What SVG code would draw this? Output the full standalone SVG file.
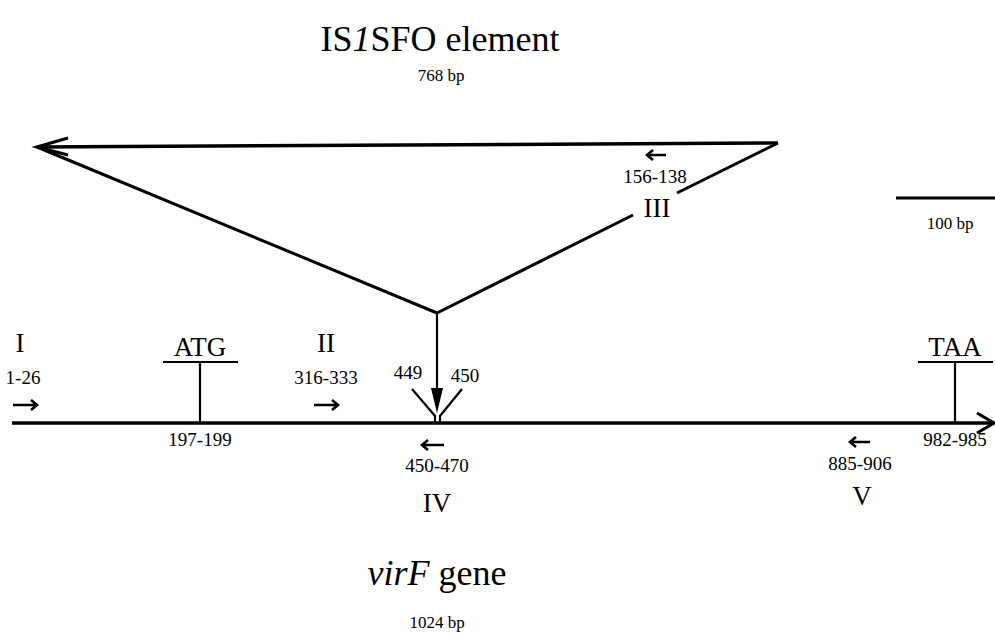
<svg xmlns="http://www.w3.org/2000/svg" width="995" height="640" viewBox="0 0 995 640">
<style>
text{font-family:"Liberation Serif","Times New Roman",serif;fill:#000;text-anchor:middle}
.big{font-size:36px}
.rom{font-size:27px}
.num{font-size:19px}
.bp{font-size:17px}
.ln{stroke:#000;fill:none;stroke-linecap:butt}
.thick{stroke-width:3.5}
.mid{stroke-width:3}
.thin{stroke-width:2.2}
.pr{stroke:#000;fill:none;stroke-width:2.6;stroke-linejoin:miter}
</style>
<rect width="995" height="640" fill="#fff"/>
<g id="title">
<text class="big" x="440" y="51">IS<tspan font-style="italic">1</tspan>SFO element</text>
<text class="bp" x="441" y="81">768 bp</text>
</g>
<g id="is-element">
<path class="ln thick" d="M778 143 L37 147"/>
<path class="ln mid" d="M68 138 L37 147 L68 155"/>
<path class="ln mid" d="M37 147 L437 313"/>
<path class="ln mid" d="M778 143 L677 193 M633 215 L437 313"/>
</g>
<g id="primer-III">
<path class="pr" d="M666 155 H647 M653 150 L647 155 L653 160"/>
<text class="num" x="655" y="183">156-138</text>
<text class="rom" x="657" y="217">III</text>
</g>
<g id="scale-bar">
<path class="ln mid" d="M896 198 H995"/>
<text class="bp" x="950" y="229">100 bp</text>
</g>
<g id="connectors">
<path class="ln thin" d="M437 313 V392"/>
<polygon points="431,388 443,388 437,413" fill="#000"/>
<path class="ln thin" d="M412 389 L435 416 V423 M462 389 L440 416 V423"/>
</g>
<g id="insertion-labels">
<text class="num" x="408" y="379">449</text>
<text class="num" x="465" y="382">450</text>
</g>
<g id="virF-gene">
<path class="ln thick" d="M12 423 H993"/>
<path class="ln mid" d="M977 413 L994 423 L977 433"/>
</g>
<g id="primer-I">
<text class="rom" x="20" y="352">I</text>
<text class="num" x="23" y="384">1-26</text>
<path class="pr" d="M13 405 H37 M31 400 L37 405 L31 410"/>
</g>
<g id="ATG">
<text class="rom" x="200" y="356">ATG</text>
<path class="ln thin" d="M163 362 H238 M200 362 V423"/>
<text class="num" x="200" y="446">197-199</text>
</g>
<g id="primer-II">
<text class="rom" x="326" y="352">II</text>
<text class="num" x="326" y="384">316-333</text>
<path class="pr" d="M314 405 H338 M332 400 L338 405 L332 410"/>
</g>
<g id="primer-IV">
<path class="pr" d="M444 445 H422 M428 440 L422 445 L428 450"/>
<text class="num" x="437" y="472">450-470</text>
<text class="rom" x="437" y="512">IV</text>
</g>
<g id="primer-V">
<path class="pr" d="M870 442 H850 M856 437 L850 442 L856 447"/>
<text class="num" x="860" y="470">885-906</text>
<text class="rom" x="862" y="505">V</text>
</g>
<g id="TAA">
<text class="rom" x="955" y="356">TAA</text>
<path class="ln thin" d="M918 362 H993 M955 362 V423"/>
<text class="num" x="955" y="446">982-985</text>
</g>
<g id="gene-label">
<text class="big" x="437" y="585"><tspan font-style="italic">virF</tspan> gene</text>
<text class="bp" x="437" y="628">1024 bp</text>
</g>
</svg>
